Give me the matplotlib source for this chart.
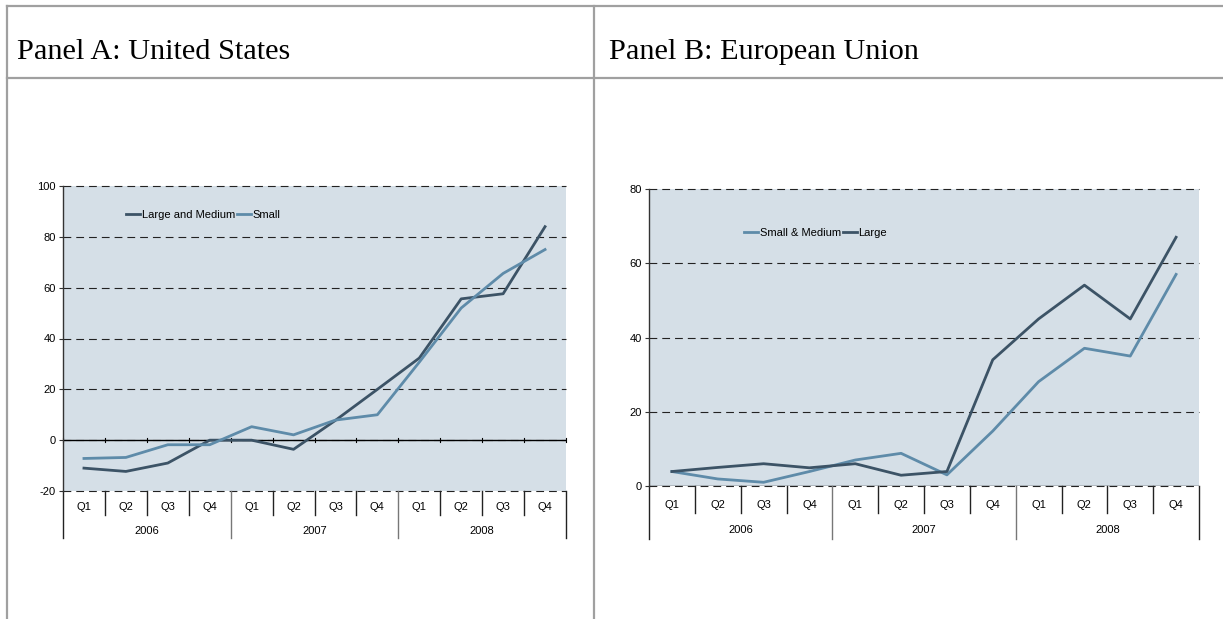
import matplotlib
matplotlib.use("Agg")
import matplotlib.pyplot as plt
from matplotlib.lines import Line2D

# ---------------- Data ----------------
quarters = ["Q1", "Q2", "Q3", "Q4"] * 3
years = ["2006", "2007", "2008"]

us_large_medium = [-11, -12.3, -9, 0, 0, -3.6, 7.8, 20, 32.3, 55.6, 57.6, 84]
us_small = [-7.2, -6.8, -1.8, -1.8, 5.3, 2.1, 7.9, 10, 30.7, 52, 65.6, 75]

eu_small_medium = [3.9, 1.9, 1.0, 3.9, 7.0, 8.8, 3.0, 14.8, 28.1, 37.1, 35.0, 57]
eu_large = [3.9, 5.0, 6.0, 4.9, 6.0, 2.9, 3.9, 34, 45, 54.1, 45, 67]

W, H = 1223, 619
DARK = "#3C5366"
LIGHT = "#5E8BA9"
BG = "#D5DFE7"
BORDER = "#A0A0A0"

plt.rcParams['font.family'] = ['Liberation Sans', 'DejaVu Sans']
plt.rcParams['axes.unicode_minus'] = False

fig = plt.figure(figsize=(W / 100, H / 100), dpi=100)
fig.patch.set_facecolor("white")


def box(x0, y_top, x1, y_bot):
    return [x0 / W, 1 - y_bot / H, (x1 - x0) / W, (y_bot - y_top) / H]


def fline(xs, ys):
    fig.add_artist(Line2D([x / W for x in xs], [1 - y / H for y in ys],
                          transform=fig.transFigure, color=BORDER, lw=1.6))


# table borders
fline([7, W], [6, 6])
fline([7, W], [78, 78])
fline([7, 7], [6, H])
fline([594, 594], [6, H])

fig.text(17 / W, 1 - 59 / H, "Panel A: United States", family="Liberation Serif",
         fontsize=21.8, va="baseline", ha="left")
fig.text(609 / W, 1 - 59 / H, "Panel B: European Union", family="Liberation Serif",
         fontsize=21.8, va="baseline", ha="left")


def setup(ax, h_px, ymin, ymax, step, q_lab, yr_lab, q_sep, yr_sep):
    ax.set_facecolor(BG)
    ax.set_xlim(-0.5, 11.5)
    ax.set_ylim(ymin, ymax)
    ax.set_yticks(range(ymin, ymax + 1, step))
    ax.set_xticks([])
    for s in ["top", "right", "bottom"]:
        ax.spines[s].set_visible(False)
    ax.spines["left"].set_color("#333333")
    ax.spines["left"].set_linewidth(1.0)
    ax.tick_params(axis="y", direction="out", length=3, width=0.8,
                   color="#333333", labelsize=8, pad=2)
    ax.yaxis.grid(True, linestyle=(0, (7, 4.5)), color="#222222", lw=0.8)
    for gl in ax.get_ygridlines():
        gl.set_clip_on(False)
    ax.set_axisbelow(True)

    tr = ax.get_xaxis_transform()
    # quarter and year separators below the plot
    for i in range(13):
        b = i - 0.5
        depth = yr_sep if i % 4 == 0 else q_sep
        col = "#222222" if i % 4 != 0 or i in (0, 12) else "#777777"
        ax.plot([b, b], [0, -depth / h_px], transform=tr, color=col, lw=1.0,
                clip_on=False)
    for i, q in enumerate(quarters):
        ax.text(i, -q_lab / h_px, q, transform=tr, ha="center", va="center",
                fontsize=8)
    for j, y in enumerate(years):
        ax.text(4 * j + 1.5, -yr_lab / h_px, y, transform=tr, ha="center",
                va="center", fontsize=8)


# ---------------- Panel A ----------------
axA = fig.add_axes(box(63, 186, 566, 491))
setup(axA, 305, -20, 100, 20, 16, 40, 24, 47)
axA.axhline(0, color="black", lw=1.0, zorder=2)
for i in range(13):
    axA.plot([i - 0.5, i - 0.5], [-0.8, 0.8], color="black", lw=0.8, clip_on=False)
x = list(range(len(quarters)))
axA.plot(x, us_large_medium, color=DARK, lw=2.0, label="Large and Medium", zorder=3)
axA.plot(x, us_small, color=LIGHT, lw=2.0, label="Small", zorder=3)
axA.legend(loc="center left", bbox_to_anchor=(126 / W, 1 - 215 / H),
           bbox_transform=fig.transFigure, ncol=2, frameon=False, fontsize=8,
           handlelength=1.3, handletextpad=0.1, columnspacing=0.2,
           borderpad=0, borderaxespad=0)

# ---------------- Panel B ----------------
axB = fig.add_axes(box(649, 189, 1199, 486))
setup(axB, 297, 0, 80, 20, 19, 44, 27, 53)
axB.axhline(0, color="#222222", lw=1.0, zorder=2)
axB.plot(x, eu_small_medium, color=LIGHT, lw=2.0, label="Small & Medium", zorder=3)
axB.plot(x, eu_large, color=DARK, lw=2.0, label="Large", zorder=3)
axB.legend(loc="center left", bbox_to_anchor=(744 / W, 1 - 233 / H),
           bbox_transform=fig.transFigure, ncol=2, frameon=False, fontsize=8,
           handlelength=1.3, handletextpad=0.1, columnspacing=0.2,
           borderpad=0, borderaxespad=0)

plt.savefig("out.png", dpi=100)
